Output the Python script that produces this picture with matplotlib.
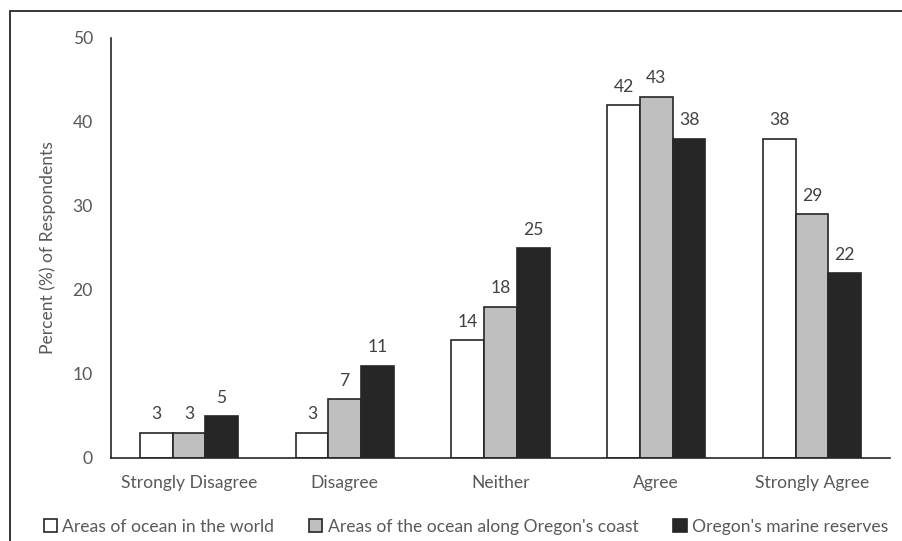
import matplotlib
matplotlib.use("Agg")
import matplotlib.pyplot as plt
import numpy as np
from matplotlib.patches import Rectangle

categories = ["Strongly Disagree", "Disagree", "Neither", "Agree", "Strongly Agree"]
series_names = ["Areas of ocean in the world",
                "Areas of the ocean along Oregon's coast",
                "Oregon's marine reserves"]
world = [3, 3, 14, 42, 38]
coast = [3, 7, 18, 43, 29]
reserves = [5, 11, 25, 38, 22]
y_ticks = [0, 10, 20, 30, 40, 50]

plt.rcParams['font.family'] = ['Lato', 'DejaVu Sans']
FS = 12.6

W, H = 903, 541
fig = plt.figure(figsize=(W / 100, H / 100), dpi=100)

# frame around the chart area (top and left edges fall inside the canvas)
fig.patches.append(Rectangle((10 / W, -0.1), 1.2, (H - 11) / H + 0.1,
                             transform=fig.transFigure, fill=False,
                             edgecolor="#262626", linewidth=1.3, zorder=0))

ax = fig.add_axes([111 / W, (H - 458) / H, (890 - 111) / W, (458 - 38) / H])

x = np.arange(len(categories))
bw = 0.21
fills = ["white", "#bfbfbf", "#262626"]
edge = "#262626"
handles = []
for i, (vals, fc) in enumerate(zip([world, coast, reserves], fills)):
    pos = x + (i - 1) * bw
    b = ax.bar(pos, vals, width=bw, color=fc, edgecolor=edge, linewidth=1.2,
               label=series_names[i], zorder=2)
    handles.append(b)
    for px, v in zip(pos, vals):
        ax.annotate(str(v), (px, v), xytext=(0, 7.5), textcoords="offset points",
                    ha="center", va="bottom", fontsize=FS, color="#404040")

ax.set_xlim(-0.5, len(categories) - 0.5)
ax.set_ylim(0, 50)
ax.set_yticks(y_ticks)
ax.set_xticks(x)
ax.set_xticklabels(categories)
ax.tick_params(axis="both", length=0, labelsize=FS, colors="#595959")
ax.tick_params(axis="y", pad=13)
ax.tick_params(axis="x", pad=12)
for s in ["top", "right"]:
    ax.spines[s].set_visible(False)
for s in ["left", "bottom"]:
    ax.spines[s].set_color("#262626")
    ax.spines[s].set_linewidth(1.2)

ax.set_ylabel("Percent (%) of Respondents", fontsize=FS, color="#595959", labelpad=12)

leg = fig.legend(handles=handles, labels=series_names, loc="center",
                 bbox_to_anchor=(466 / W, (H - 527) / H), ncol=3, frameon=False,
                 fontsize=FS, handlelength=0.75, handleheight=0.75,
                 handletextpad=0.3, columnspacing=2.0, borderaxespad=0)
for t in leg.get_texts():
    t.set_color("#595959")

fig.savefig("out.png", dpi=100)
